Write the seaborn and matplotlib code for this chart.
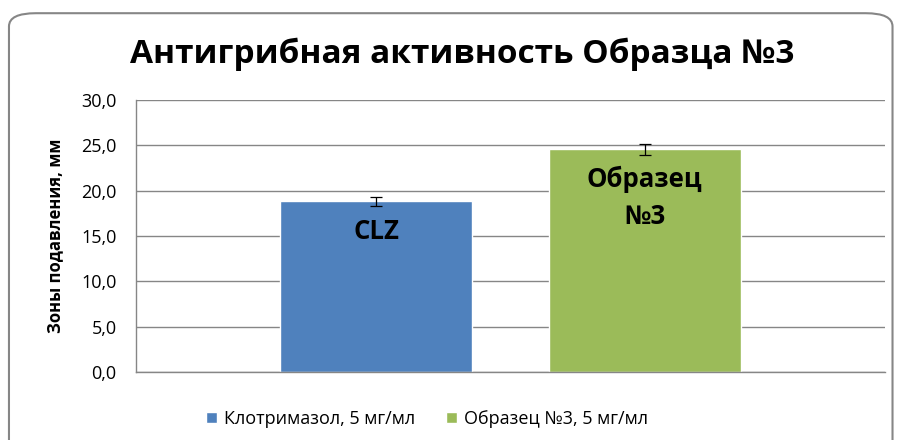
import matplotlib
matplotlib.use("Agg")
import matplotlib.pyplot as plt
import matplotlib.ticker as mticker
from matplotlib.patches import FancyBboxPatch
import seaborn as sns
import pandas as pd

# data
series = ['Клотримазол, 5 мг/мл', 'Образец №3, 5 мг/мл']
values = [18.85, 24.55]
errors = [0.5, 0.65]
bar_labels = ['CLZ', 'Образец\n№3']
colors = ['#4f81bd', '#9bbb59']

df = pd.DataFrame({'group': ['a', 'a'], 'series': series, 'value': values})

sns.set_style("white")
plt.rcParams['font.family'] = ['Open Sans', 'DejaVu Sans']
plt.rcParams['text.color'] = 'black'
plt.rcParams['axes.labelcolor'] = 'black'
plt.rcParams['ytick.color'] = 'black'

fig = plt.figure(figsize=(8.97, 4.4), dpi=100)
ax = fig.add_axes([0.1516, 0.1545, 0.835, 0.618])

sns.barplot(data=df, x='group', y='value', hue='series', palette=colors, saturation=1,
            width=0.716, gap=0.284, errorbar=None, ax=ax, legend=True, zorder=2)

# error bars and in-bar labels
for patch, v, e, lab in zip(ax.patches, values, errors, bar_labels):
    xc = patch.get_x() + patch.get_width() / 2
    ax.errorbar(xc, v, yerr=e, fmt='none', ecolor='black', elinewidth=0.9,
                capsize=4.5, capthick=0.9, zorder=3)
    ax.annotate(lab, (xc, v), xytext=(0, -12), textcoords='offset points',
                ha='center', va='top', fontsize=18.5, fontweight='bold',
                linespacing=1.45, zorder=4)

ax.set_xlim(-0.5, 0.5)
ax.set_ylim(0, 30)
ax.set_yticks([0, 5, 10, 15, 20, 25, 30])
ax.yaxis.set_major_formatter(mticker.FuncFormatter(lambda v, p: f"{v:.1f}".replace('.', ',')))
ax.set_xticks([])
ax.set_xlabel('')
ax.set_ylabel('Зоны подавления, мм', fontsize=12, fontweight='bold', labelpad=12)
ax.tick_params(axis='y', labelsize=13, length=0, left=False, pad=14)

ax.yaxis.grid(True, color='#868686', linewidth=1)
ax.set_axisbelow(True)
for s in ['top', 'right']:
    ax.spines[s].set_visible(False)
for s in ['left', 'bottom']:
    ax.spines[s].set_color('#868686')
    ax.spines[s].set_linewidth(1)

leg = ax.legend(loc='upper center', bbox_to_anchor=(0.389, -0.08), ncol=2, frameon=False,
                fontsize=13, handlelength=0.6, handleheight=0.6, handletextpad=0.4,
                columnspacing=1.7)

fig.suptitle('Антигрибная активность Образца №3', x=0.515, y=0.915,
             fontsize=24, fontweight='bold')

# chart frame with rounded corners
frame = FancyBboxPatch((0.01, -0.05), 0.985, 1.02, boxstyle="round,pad=0,rounding_size=0.03",
                       transform=fig.transFigure, fill=False, edgecolor='#868686',
                       linewidth=1.5)
fig.patches.append(frame)

fig.savefig('out.png', dpi=100)
